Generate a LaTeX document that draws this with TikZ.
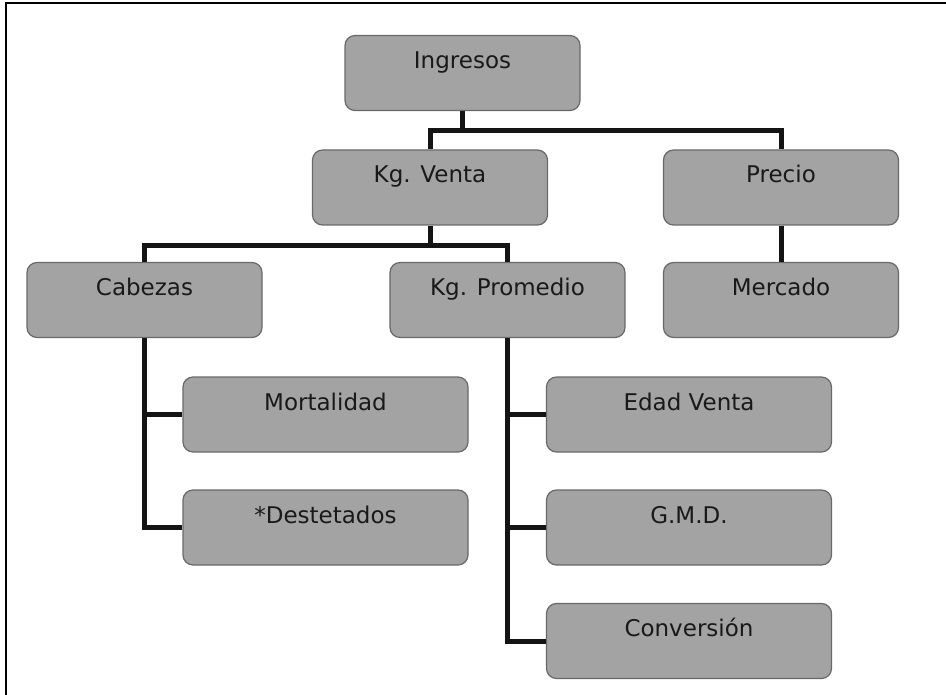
\documentclass[tikz,border=0pt]{standalone}
\usepackage{fontspec}
\setmainfont{DejaVu Sans}
\usetikzlibrary{positioning}
\definecolor{cajagris}{RGB}{163,163,163}
\definecolor{bordegris}{RGB}{105,105,105}

\tikzset{caja/.style={draw=bordegris, fill=cajagris, line width=1.2pt,
    rounded corners=10pt, minimum width=235pt, inner sep=0pt,
    text height=33pt, text depth=42pt, text=black!90,
    font=\fontsize{23}{27}\selectfont},
  ancha/.style={caja, minimum width=285pt},
  rama/.style={line width=5pt, black!92}}

\begin{document}
\begin{tikzpicture}[x=1pt,y=-1pt]
\useasboundingbox (0,0) rectangle (946,695);
% marco
\draw[line width=2pt] (6,695) -- (6,3) -- (946,3);

% niveles
\node[caja] (ing) at (462.5,73) {Ingresos};
\node[caja] (kgv) at (430,187.5) {Kg. Venta};
\node[caja] (pre) at (781,187.5) {Precio};
\node[caja] (cab) at (144.5,300) {Cabezas};
\node[caja] (kgp) at (507.5,300) {Kg. Promedio};
\node[caja] (mer) at (781,300) {Mercado};
\node[ancha] (mor) at (325.5,414.5) {Mortalidad};
\node[ancha] (des) at (325.5,527.5) {*Destetados};
\node[ancha] (eda) at (689,414.5) {Edad Venta};
\node[ancha] (gmd) at (689,527.5) {G.M.D.};
\node[ancha] (con) at (689,641) {Conversión};

% ramas
\draw[rama] (ing.south) -- ++(0,19) coordinate (b1);
\draw[rama] (kgv.north) |- (b1) -| (pre.north);
\draw[rama] (kgv.south) -- ++(0,20) coordinate (b2);
\draw[rama] (cab.north) |- (b2) -| (kgp.north);
\draw[rama] (pre.south) -- (mer.north);
\foreach \n in {mor,des}
	\draw[rama] (cab.south) |- (\n.west);
\foreach \n in {eda,gmd,con}
	\draw[rama] (kgp.south) |- (\n.west);
\end{tikzpicture}
\end{document}
